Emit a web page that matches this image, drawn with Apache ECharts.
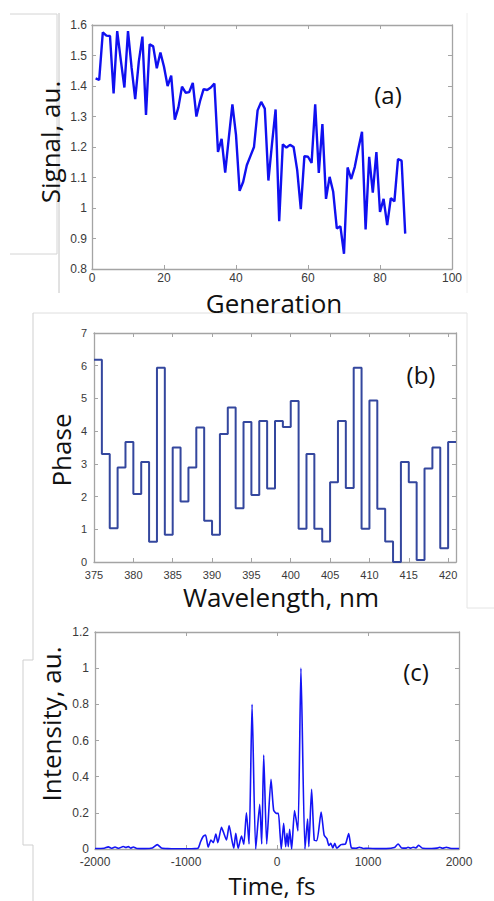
<!DOCTYPE html>
<html><head><meta charset="utf-8">
<script src="https://cdn.jsdelivr.net/npm/echarts@6/dist/echarts.min.js"></script>
<style>html,body{margin:0;padding:0;background:#fff}#c{width:494px;height:901px}</style>
</head><body><div id="c"></div>
<script>
// ---- Panel (a): Signal vs Generation ----
const signalValues = [1.425,1.42,1.576,1.565,1.564,1.376,1.58,1.485,1.395,1.58,
  1.46,1.357,1.48,1.562,1.305,1.537,1.53,1.458,1.51,1.463,
  1.40,1.434,1.29,1.33,1.398,1.378,1.38,1.41,1.30,1.35,
  1.39,1.387,1.395,1.408,1.184,1.227,1.116,1.23,1.34,1.24,
  1.056,1.086,1.14,1.17,1.20,1.32,1.348,1.326,1.09,1.21,
  1.323,0.957,1.209,1.198,1.207,1.20,1.124,0.996,1.17,1.168,
  1.148,1.34,1.115,1.275,1.03,1.102,1.053,0.933,0.94,0.85,
  1.133,1.095,1.135,1.195,1.25,0.93,1.168,1.05,1.183,0.987,
  1.03,0.944,1.032,1.022,1.16,1.155,0.916];
const genFirst = 1;
const genAxis = {min:0, max:100, interval:20};
const signalAxis = {min:0.8, max:1.6, interval:0.1};

// ---- Panel (b): Phase vs Wavelength (step) ----
const wavelengthStart = 375;
const phaseValues = [6.18,3.3,1.03,2.89,3.67,2.08,3.06,0.62,5.94,0.83,
  3.5,1.85,2.89,4.11,1.26,0.83,3.91,4.72,1.64,4.28,
  2.05,4.31,2.25,4.31,4.13,4.92,1.02,3.3,1.02,0.63,
  2.44,4.31,2.26,5.94,1.02,4.94,1.63,0.63,0.0,3.06,
  2.44,0.06,2.86,3.5,0.42,3.67];
const wlAxis = {min:375, max:421, interval:5};
const phaseAxis = {min:0, max:7, interval:1};

// ---- Panel (c): Intensity vs Time ----
const timeFs = [-2000,-1900,-1854,-1820,-1780,-1740,-1689,-1660,-1634,-1605,-1579,-1540,-1450,-1370,-1316,-1270,-1200,-1100,-1000,-900,
  -865,-840,-810,-785,-756,-726,-700,-672,-650,-610,-584,-555,-526,-496,-475,-453,-427,-390,-365,-336,
  -307,-274,-234,-190,-168,-146,-113,-66,-37,-7,15,33,47,73,95,110,124,139,161,193,
  230,263,307,336,350,380,409,438,485,518,548,570,591,613,635,657,704,752,788,818,
  870,905,950,1000,1100,1200,1290,1331,1370,1420,1440,1470,1495,1525,1557,1600,1700,1760,1788,1820,
  1861,1900,1950,2000];
const intensity = [0.003,0.004,0.012,0.004,0.011,0.004,0.014,0.008,0.013,0.005,0.011,0.003,0.002,0.006,0.024,0.006,0.002,0.001,0.001,0.002,
  0.006,0.04,0.07,0.077,0.01,0.05,0.035,0.083,0.035,0.12,0.087,0.05,0.13,0.05,0.004,0.087,0.004,0.072,0.026,0.2,
  0.028,0.8,0.0,0.247,0.028,0.52,0.028,0.385,0.215,0.197,0.197,0.087,0.0,0.142,0.013,0.087,0.013,0.109,0.0,0.212,
  0.1,1.0,0.0,0.166,0.013,0.33,0.05,0.046,0.204,0.077,0.057,0.02,0.031,0.006,0.031,0.004,0.024,0.028,0.085,0.006,
  0.004,0.01,0.003,0.004,0.002,0.002,0.008,0.028,0.006,0.005,0.01,0.005,0.01,0.006,0.02,0.004,0.003,0.005,0.01,0.004,
  0.01,0.004,0.003,0.003];
const timeAxis = {min:-2000, max:2000, interval:1000};
const intensityAxis = {min:0, max:1.2, interval:0.2};

// ---- build ----
const signalData = signalValues.map((v,i)=>[genFirst+i, v]);
const phaseData = phaseValues.map((v,i)=>[wavelengthStart+i, v]);
phaseData.push([wavelengthStart+phaseValues.length, phaseValues[phaseValues.length-1]]);
const intensityData = timeFs.map((t,i)=>[t, intensity[i]]);

const axisColor = '#a4a4a4';
const labelFont = {color:'#3a3a3a', fontFamily:'"Liberation Sans", Arial, sans-serif', formatter: v => String(v)};
function xAx(grid, spec, pos, fs, margin, extra){
  return Object.assign({type:'value', gridIndex:grid, position:pos, min:spec.min, max:spec.max, interval:spec.interval,
    axisLine:{show:true, onZero:false, lineStyle:{color:axisColor, width:1.3}},
    axisTick:{show:true, inside:true, length:4, lineStyle:{color:axisColor}},
    splitLine:{show:false},
    axisLabel: pos==='bottom' ? Object.assign({show:true, fontSize:fs, lineHeight:fs-1, margin:margin}, labelFont) : {show:false}
  }, extra||{});
}
function yAx(grid, spec, pos, fs, margin){
  return {type:'value', gridIndex:grid, position:pos, min:spec.min, max:spec.max, interval:spec.interval,
    axisLine:{show:true, onZero:false, lineStyle:{color:axisColor, width:1.3}},
    axisTick:{show:true, inside:true, length:4, lineStyle:{color:axisColor}},
    splitLine:{show:false},
    axisLabel: pos==='left' ? Object.assign({show:true, fontSize:fs, lineHeight:fs-1, margin:margin}, labelFont) : {show:false}
  };
}

const titleFont = '"Open Sans", "Noto Sans", sans-serif';
function txt(t, x, y, size, rot){
  return {type:'text', x:x, y:y, rotation: rot||0,
    style:{text:t, x:0, y:0, fill:'#111', fontSize:size, lineHeight:Math.round(size*0.75), fontFamily:titleFont, align:'center', verticalAlign:'middle'}};
}
function ln(x1,y1,x2,y2,c){
  return {type:'line', shape:{x1:x1,y1:y1,x2:x2,y2:y2}, style:{stroke:c||'#d4d4d4', lineWidth:1}};
}

const chart = echarts.init(document.getElementById('c'), null, {renderer:'svg'});
chart.setOption({
  animation:false,
  backgroundColor:'#fff',
  grid:[
    {left:92, top:25, width:360, height:244},
    {left:94, top:333, width:362, height:229},
    {left:95, top:632, width:364, height:217}
  ],
  xAxis:[
    xAx(0, genAxis, 'bottom', 12, 3),
    xAx(0, genAxis, 'top'),
    xAx(1, wlAxis, 'bottom', 11, 7, {axisLabel:Object.assign({show:true, fontSize:11, margin:7, showMaxLabel:false}, labelFont)}),
    xAx(1, wlAxis, 'top'),
    xAx(2, timeAxis, 'bottom', 12, 7),
    xAx(2, timeAxis, 'top')
  ],
  yAxis:[
    yAx(0, signalAxis, 'left', 12, 5),
    yAx(0, signalAxis, 'right'),
    yAx(1, phaseAxis, 'left', 11, 7),
    yAx(1, phaseAxis, 'right'),
    yAx(2, intensityAxis, 'left', 12, 6),
    yAx(2, intensityAxis, 'right')
  ],
  series:[
    {type:'line', xAxisIndex:0, yAxisIndex:0, data:signalData, showSymbol:false,
      lineStyle:{color:'#1010f0', width:2.4}},
    {type:'line', xAxisIndex:2, yAxisIndex:2, data:phaseData, step:'end', showSymbol:false,
      lineStyle:{color:'#34479e', width:2}},
    {type:'line', xAxisIndex:4, yAxisIndex:4, data:intensityData, showSymbol:false, smooth:0.2,
      lineStyle:{color:'#1414f5', width:1.6}}
  ],
  graphic:[
    ln(10,14,57,14), ln(57,14,57,254), ln(10,254,57,254),
    ln(59,13,59,293,'#c4c4c4'), ln(467,13,467,293,'#eeeeee'),
    ln(33,313,467,313,'#dedede'), ln(467,313,467,608,'#e4e4e4'), ln(467,608,494,608,'#e4e4e4'),
    ln(33,313,33,660,'#cfcfcf'), ln(23,660,33,660,'#cfcfcf'), ln(23,660,23,845,'#cfcfcf'),
    ln(23,845,33,845,'#cfcfcf'), ln(33,845,33,901,'#cfcfcf'),
    txt('Signal, au.', 50, 142, 26, Math.PI/2),
    txt('Generation', 274, 303, 26),
    txt('(a)', 388, 94, 24),
    txt('Phase', 61, 450, 26, Math.PI/2),
    txt('Wavelength, nm', 281, 597, 26),
    txt('(b)', 421, 374, 24),
    txt('Intensity, au.', 51, 724, 26, Math.PI/2),
    txt('Time, fs', 272, 885, 24),
    txt('(c)', 416, 671, 24)
  ]
});
</script></body></html>
